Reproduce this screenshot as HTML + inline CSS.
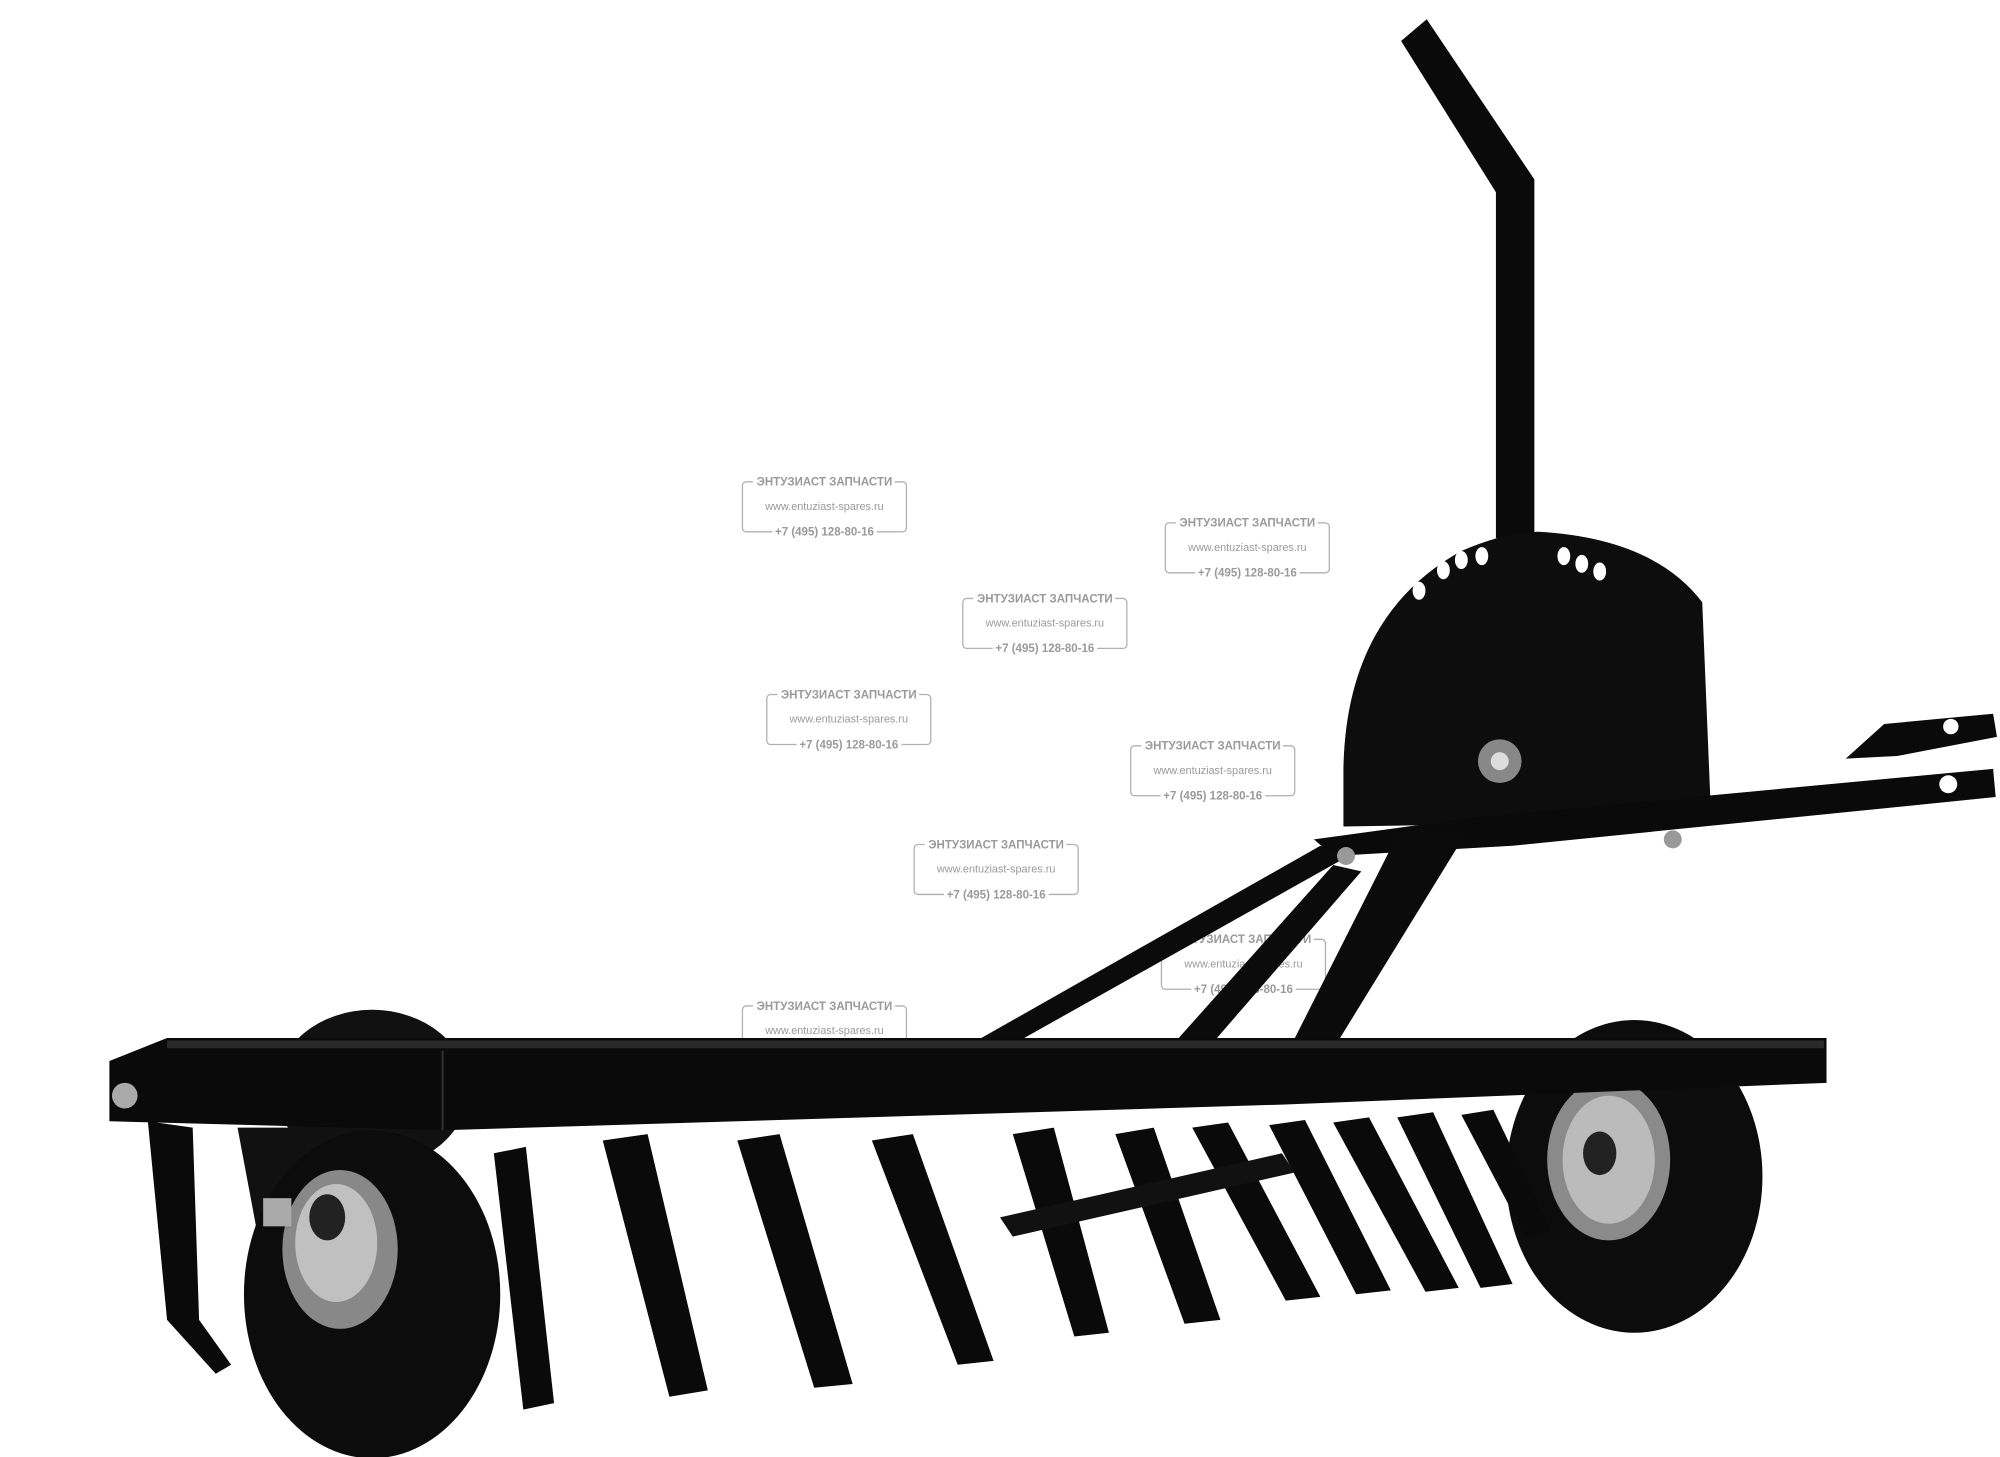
<!DOCTYPE html>
<html><head><meta charset="utf-8"><style>
html,body{margin:0;padding:0;background:#fff;width:2000px;height:1457px;overflow:hidden}
svg{display:block}
.wm text{font-family:"Liberation Sans",sans-serif;fill:#9a9a9a;text-anchor:middle;stroke:#fff;stroke-width:5px;paint-order:stroke}
.wm rect{fill:none;stroke:#b0b0b0;stroke-width:1}
</style></head><body>
<svg width="2000" height="1457" viewBox="0 0 1560 1137" xmlns="http://www.w3.org/2000/svg">
<rect width="1560" height="1137" fill="#fff"/>
<!-- watermarks (behind) -->
<g class="wm" font-weight="bold">
<g transform="translate(643,376)"><rect x="-64" y="0" width="128" height="39" rx="3"/><text y="3" font-size="9">ЭНТУЗИАСТ ЗАПЧАСТИ</text><text y="22" font-size="8.5" font-weight="normal">www.entuziast-spares.ru</text><text y="42" font-size="9">+7 (495) 128-80-16</text></g>
<g transform="translate(973,408)"><rect x="-64" y="0" width="128" height="39" rx="3"/><text y="3" font-size="9">ЭНТУЗИАСТ ЗАПЧАСТИ</text><text y="22" font-size="8.5" font-weight="normal">www.entuziast-spares.ru</text><text y="42" font-size="9">+7 (495) 128-80-16</text></g>
<g transform="translate(815,467)"><rect x="-64" y="0" width="128" height="39" rx="3"/><text y="3" font-size="9">ЭНТУЗИАСТ ЗАПЧАСТИ</text><text y="22" font-size="8.5" font-weight="normal">www.entuziast-spares.ru</text><text y="42" font-size="9">+7 (495) 128-80-16</text></g>
<g transform="translate(662,542)"><rect x="-64" y="0" width="128" height="39" rx="3"/><text y="3" font-size="9">ЭНТУЗИАСТ ЗАПЧАСТИ</text><text y="22" font-size="8.5" font-weight="normal">www.entuziast-spares.ru</text><text y="42" font-size="9">+7 (495) 128-80-16</text></g>
<g transform="translate(946,582)"><rect x="-64" y="0" width="128" height="39" rx="3"/><text y="3" font-size="9">ЭНТУЗИАСТ ЗАПЧАСТИ</text><text y="22" font-size="8.5" font-weight="normal">www.entuziast-spares.ru</text><text y="42" font-size="9">+7 (495) 128-80-16</text></g>
<g transform="translate(777,659)"><rect x="-64" y="0" width="128" height="39" rx="3"/><text y="3" font-size="9">ЭНТУЗИАСТ ЗАПЧАСТИ</text><text y="22" font-size="8.5" font-weight="normal">www.entuziast-spares.ru</text><text y="42" font-size="9">+7 (495) 128-80-16</text></g>
<g transform="translate(970,733)"><rect x="-64" y="0" width="128" height="39" rx="3"/><text y="3" font-size="9">ЭНТУЗИАСТ ЗАПЧАСТИ</text><text y="22" font-size="8.5" font-weight="normal">www.entuziast-spares.ru</text><text y="42" font-size="9">+7 (495) 128-80-16</text></g>
<g transform="translate(643,785)"><rect x="-64" y="0" width="128" height="39" rx="3"/><text y="3" font-size="9">ЭНТУЗИАСТ ЗАПЧАСТИ</text><text y="22" font-size="8.5" font-weight="normal">www.entuziast-spares.ru</text></g>
</g>
<!-- back tire left -->
<ellipse cx="290" cy="850" rx="75" ry="62" fill="#111"/>
<!-- right wheel -->
<ellipse cx="1275" cy="918" rx="100" ry="122" fill="#0c0c0c"/>
<ellipse cx="1255" cy="905" rx="48" ry="63" fill="#8a8a8a"/>
<ellipse cx="1255" cy="905" rx="36" ry="50" fill="#bbb"/>
<ellipse cx="1248" cy="900" rx="13" ry="17" fill="#222"/>
<!-- handle -->
<polygon points="1093,32 1113,15 1197,140 1197,420 1167,420 1167,150" fill="#0a0a0a"/>
<!-- half disk -->
<path d="M1048,645 L1048,600 Q1050,480 1140,430 Q1175,415 1200,415 Q1290,420 1328,470 L1335,640 Z" fill="#0d0d0d"/>
<g fill="#fff">
<ellipse cx="1107" cy="461" rx="5" ry="7"/><ellipse cx="1126" cy="445" rx="5" ry="7"/>
<ellipse cx="1140" cy="437" rx="5" ry="7"/><ellipse cx="1156" cy="434" rx="5" ry="7"/>
<ellipse cx="1220" cy="434" rx="5" ry="7"/><ellipse cx="1234" cy="440" rx="5" ry="7"/><ellipse cx="1248" cy="446" rx="5" ry="7"/>
</g>
<circle cx="1170" cy="594" r="17" fill="#888"/><circle cx="1170" cy="594" r="7" fill="#ddd"/>
<!-- hitch bars -->
<polygon points="1440,592 1470,565 1555,557 1558,575 1480,590" fill="#0a0a0a"/>
<circle cx="1522" cy="567" r="6" fill="#fff"/>
<polygon points="1025,655 1150,638 1555,600 1557,622 1180,660 1040,668" fill="#0a0a0a"/>
<circle cx="1520" cy="612" r="7" fill="#fff"/>
<!-- braces -->
<polygon points="1030,660 1052,668 790,815 762,812" fill="#0b0b0b"/>
<polygon points="1040,675 1062,680 945,815 915,815" fill="#0b0b0b"/>
<polygon points="1092,648 1145,648 1030,835 1000,830" fill="#0b0b0b"/>
<circle cx="1050" cy="668" r="7" fill="#999"/><circle cx="1305" cy="655" r="7" fill="#999"/>
<!-- tines -->
<g fill="#0a0a0a">
<polygon points="385,900 410,895 432,1095 408,1100"/>
<polygon points="470,890 505,885 552,1085 522,1090"/>
<polygon points="575,890 608,885 665,1080 635,1083"/>
<polygon points="680,890 712,885 775,1062 747,1065"/>
<polygon points="790,885 822,880 865,1040 838,1043"/>
<polygon points="870,885 900,880 952,1030 924,1033"/>
<polygon points="930,880 958,876 1030,1012 1003,1015"/>
<polygon points="990,878 1018,874 1085,1007 1058,1010"/>
<polygon points="1040,876 1068,872 1138,1005 1112,1008"/>
<polygon points="1090,872 1118,868 1180,1002 1155,1005"/>
<polygon points="1140,870 1165,866 1210,960 1190,965"/>
</g>
<polygon points="780,950 1000,900 1010,915 790,965" fill="#111"/>
<!-- main beam -->
<polygon points="85,828 130,810 1425,810 1425,845 1000,862 345,882 85,875" fill="#0a0a0a"/>
<polygon points="130,812 1423,812 1423,818 130,818" fill="#2a2a2a"/>
<line x1="345" y1="820" x2="345" y2="882" stroke="#333" stroke-width="1.5"/>
<circle cx="97" cy="855" r="10" fill="#aaa"/>
<!-- left bracket -->
<polygon points="115,875 150,880 155,1030 180,1065 168,1072 130,1030" fill="#0a0a0a"/>
<polygon points="185,880 240,880 250,960 200,960" fill="#111"/>
<!-- left wheel -->
<ellipse cx="290" cy="1010" rx="100" ry="128" fill="#0c0c0c"/>
<ellipse cx="265" cy="975" rx="45" ry="62" fill="#888"/>
<ellipse cx="262" cy="970" rx="32" ry="46" fill="#c0c0c0"/>
<ellipse cx="255" cy="950" rx="14" ry="18" fill="#222"/>
<rect x="205" y="935" width="22" height="22" fill="#aaa"/>
</svg>
</body></html>
